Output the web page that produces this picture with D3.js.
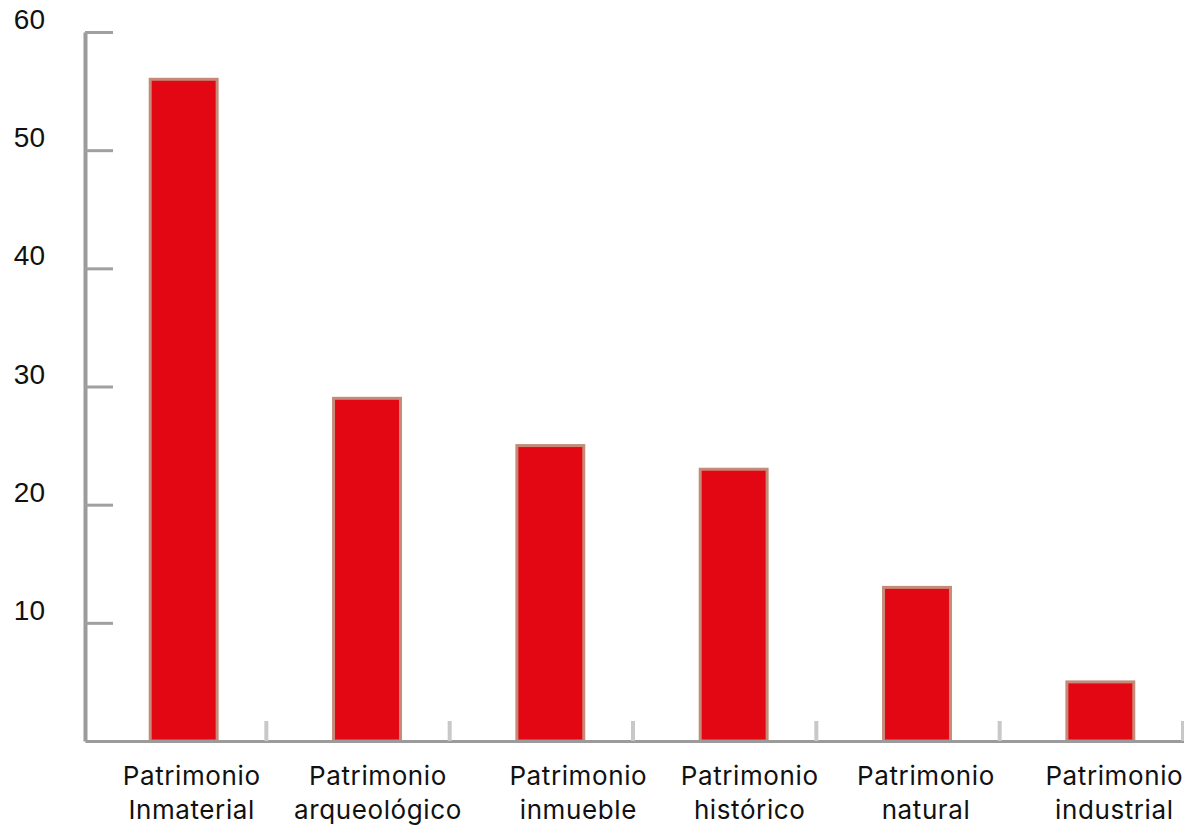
<!DOCTYPE html>
<html>
<head>
<meta charset="utf-8">
<script src="https://cdn.jsdelivr.net/npm/d3@7"></script>
<style>
  body { margin: 0; background: #fff; }
  text { fill: #111; }
  .xlab { font-family: Inter, "Noto Sans", sans-serif; }
  .ylab { font-family: "Liberation Sans", Arial, sans-serif; }
</style>
</head>
<body>
<div id="chart"></div>
<script>
// data
var categories = ["Patrimonio Inmaterial", "Patrimonio arqueológico", "Patrimonio inmueble",
                  "Patrimonio histórico", "Patrimonio natural", "Patrimonio industrial"]
var values = [56, 29, 25, 23, 13, 5]
var yTicks = [10, 20, 30, 40, 50, 60]

// layout
var W = 1184, H = 826
var plotLeft = 85, plotRight = 1185, plotTop = 32, base = 741
var labelNudge = [15, 18, 35, 23, 16, 21]  // labels sit a bit right of band centre

var svg = d3.select("#chart").append("svg")
  .attr("width", W)
  .attr("height", H)

var x = d3.scaleBand()
  .domain(categories)
  .range([plotLeft, plotRight])
  .padding(0)

var y = d3.scaleLinear()
  .domain([0, 60])
  .range([base, plotTop])

// bars
var bw = x.bandwidth() * 0.365
svg.selectAll(".bar")
  .data(values)
  .enter().append("rect")
  .attr("class", "bar")
  .attr("x", function(d, i) { return x(categories[i]) + x.bandwidth() / 2 + 7 - bw / 2 })
  .attr("y", function(d) { return y(d) })
  .attr("width", bw)
  .attr("height", function(d) { return base - y(d) })
  .attr("fill", "#e30613")
  .attr("stroke", "#c58a78")
  .attr("stroke-width", 3)

// y axis, ticks pointing right
var yAxis = svg.append("g")
  .attr("transform", "translate(" + plotLeft + ",0)")
  .call(d3.axisRight(y).tickValues(yTicks).tickSize(28).tickSizeOuter(0).tickFormat(""))
yAxis.select(".domain").attr("stroke", "#9b9b9b").attr("stroke-width", 4)
yAxis.selectAll(".tick line").attr("stroke", "#a0a0a0").attr("stroke-width", 3)

svg.selectAll(".ylab")
  .data(yTicks)
  .enter().append("text")
  .attr("class", "ylab")
  .attr("x", 45)
  .attr("y", function(d) { return y(d) - 3 })
  .attr("text-anchor", "end")
  .style("font-size", "28px")
  .text(function(d) { return d })

// baseline with category ticks
var xAxis = svg.append("g")
  .attr("transform", "translate(0," + base + ")")
  .call(d3.axisTop(x).tickSize(0).tickSizeOuter(0).tickFormat(""))
xAxis.select(".domain").attr("stroke", "#9b9b9b").attr("stroke-width", 3)

svg.selectAll(".ctick")
  .data(categories)
  .enter().append("line")
  .attr("class", "ctick")
  .attr("x1", function(d) { return x(d) + x.bandwidth() - 2 })
  .attr("x2", function(d) { return x(d) + x.bandwidth() - 2 })
  .attr("y1", base - 20)
  .attr("y2", base)
  .attr("stroke", "#c8c8c8")
  .attr("stroke-width", 4)

// category labels on two lines
var labs = svg.selectAll(".xlab")
  .data(categories)
  .enter().append("text")
  .attr("class", "xlab")
  .attr("text-anchor", "middle")
  .style("font-size", "26px")
  .style("letter-spacing", "0.6px")

labs.each(function(d, i) {
  var cx = x(d) + x.bandwidth() / 2 + labelNudge[i]
  var parts = d.split(" ")
  var t = d3.select(this)
  t.append("tspan").attr("x", cx).attr("y", 785).text(parts[0])
  t.append("tspan").attr("x", cx).attr("y", 819).text(parts.slice(1).join(" "))
})
</script>
</body>
</html>
